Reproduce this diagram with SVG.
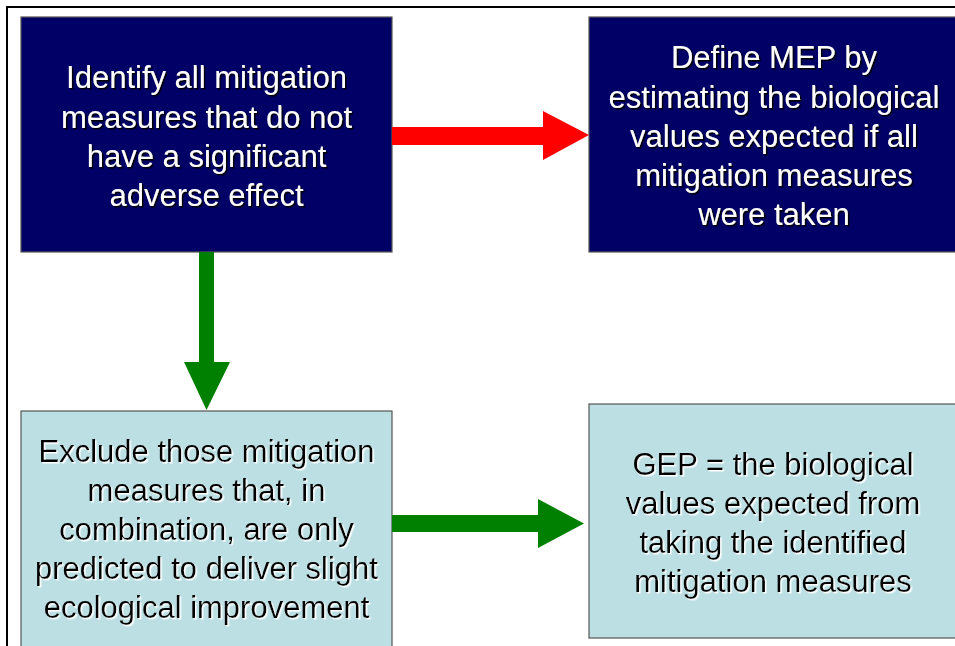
<svg xmlns="http://www.w3.org/2000/svg" width="955" height="646" viewBox="0 0 955 646">
  <defs>
    <filter id="shDark" x="-10%" y="-10%" width="120%" height="130%">
      <feDropShadow dx="1.5" dy="1.5" stdDeviation="0.3" flood-color="#000000" flood-opacity="1"/>
    </filter>
    <filter id="shLight" x="-10%" y="-10%" width="120%" height="130%">
      <feDropShadow dx="1.5" dy="1.5" stdDeviation="0.3" flood-color="#ffffff" flood-opacity="1"/>
    </filter>
  </defs>
  <style>
    .frame { fill: none; stroke: #000000; stroke-width: 2; }
    .dark { fill: #000066; stroke: #555555; stroke-width: 1.2; }
    .light { fill: #BBDFE3; stroke: #555555; stroke-width: 1.2; }
    .t { font-family: "Liberation Sans", Arial, sans-serif; font-size: 31px; text-anchor: middle; }
    .tw { fill: #ffffff; filter: url(#shDark); }
    .tb { fill: #000000; filter: url(#shLight); }
  </style>
  <rect x="0" y="0" width="955" height="646" fill="#ffffff"/>
  <path class="frame" d="M7 646 V7 H955"/>

  <g id="node-identify">
    <rect class="dark" x="21" y="17" width="371" height="235"/>
    <text class="t tw"><tspan x="206.5" y="88">Identify all mitigation</tspan><tspan x="206.5" y="128">measures that do not</tspan><tspan x="206.5" y="167">have a significant</tspan><tspan x="206.5" y="206">adverse effect</tspan></text>
  </g>

  <g id="node-mep">
    <rect class="dark" x="589" y="17" width="372" height="235"/>
    <text class="t tw"><tspan x="774" y="68">Define MEP by</tspan><tspan x="774" y="108">estimating the biological</tspan><tspan x="774" y="147">values expected if all</tspan><tspan x="774" y="186">mitigation measures</tspan><tspan x="774" y="225">were taken</tspan></text>
  </g>

  <g id="node-exclude">
    <rect class="light" x="21" y="411" width="371" height="240"/>
    <text class="t tb"><tspan x="206.5" y="462">Exclude those mitigation</tspan><tspan x="206.5" y="501">measures that, in</tspan><tspan x="206.5" y="540">combination, are only</tspan><tspan x="206.5" y="579">predicted to deliver slight</tspan><tspan x="206.5" y="618">ecological improvement</tspan></text>
  </g>

  <g id="node-gep">
    <rect class="light" x="589" y="404" width="372" height="234"/>
    <text class="t tb"><tspan x="773" y="475">GEP = the biological</tspan><tspan x="773" y="514">values expected from</tspan><tspan x="773" y="553">taking the identified</tspan><tspan x="773" y="592">mitigation measures</tspan></text>
  </g>

  <g id="connectors">
    <polygon fill="#FF0000" points="392,127 543,127 543,111 589,135 543,160 543,145 392,145"/>
    <polygon fill="#008000" points="199,252 214,252 214,362 230,362 206.5,410 184,362 199,362"/>
    <polygon fill="#008000" points="392,515 538,515 538,499 584,523.5 538,548 538,532 392,532"/>
  </g>
</svg>
